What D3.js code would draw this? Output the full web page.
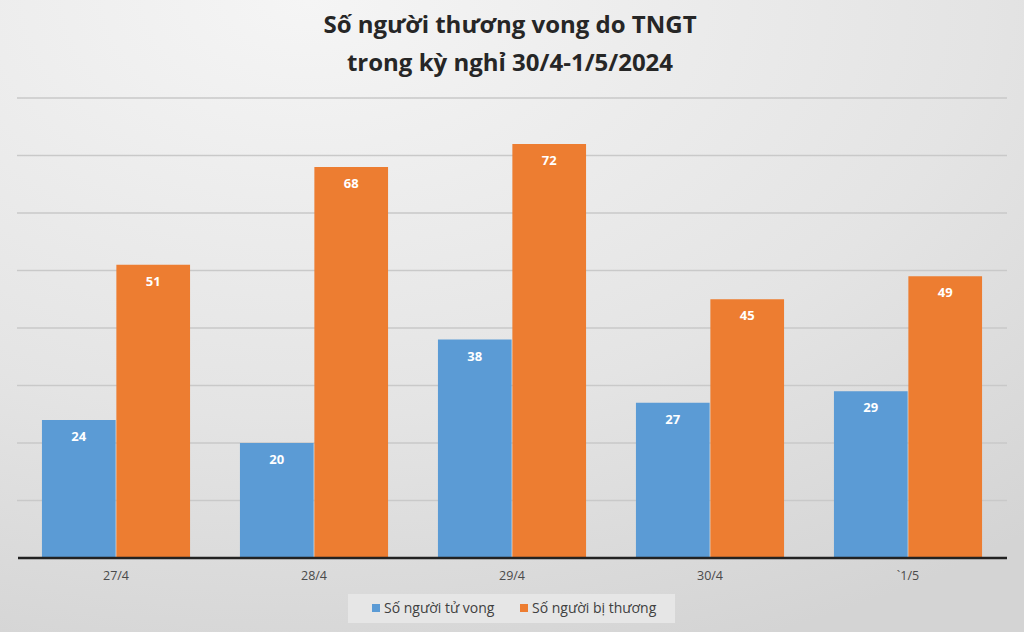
<!DOCTYPE html>
<html><head><meta charset="utf-8">
<script src="https://cdn.jsdelivr.net/npm/d3@7"></script>
<style>body{margin:0;overflow:hidden}svg{display:block}</style>
</head><body>
<script>
const categories = ["27/4","28/4","29/4","30/4","`1/5"];
const seriesNames = ["Số người tử vong","Số người bị thương"];
const deaths = [24,20,38,27,29];
const injured = [51,68,72,45,49];
const yTicks = [0,10,20,30,40,50,60,70,80];
const titleLines = ["Số người thương vong do TNGT","trong kỳ nghỉ 30/4-1/5/2024"];
const colors = ["#5b9bd5","#ed7d31"];

const W=1024,H=632;
const svg=d3.select("body").append("svg").attr("width",W).attr("height",H);
const defs=svg.append("defs");
const g=defs.append("radialGradient").attr("id","bg").attr("cx","0.3").attr("cy","0").attr("r","1.1");
g.append("stop").attr("offset","0").attr("stop-color","#f5f5f5");
g.append("stop").attr("offset","0.6").attr("stop-color","#e4e4e4");
g.append("stop").attr("offset","1").attr("stop-color","#d4d4d4");
svg.append("rect").attr("width",W).attr("height",H).attr("fill","url(#bg)");

const x0=d3.scaleBand().domain(categories).range([17,1007]).paddingInner(0.252).paddingOuter(0.126);
const x1=d3.scaleBand().domain(seriesNames).range([0,x0.bandwidth()]).paddingInner(0.01);
const y=d3.scaleLinear().domain([0,80]).range([558,98]);

// gridlines
svg.append("g").selectAll("line").data(yTicks.slice(1)).join("line")
  .attr("x1",17).attr("x2",1007).attr("y1",d=>y(d)).attr("y2",d=>y(d))
  .attr("stroke","#c9c9c9").attr("stroke-width",1.5);

const data=categories.map((c,i)=>({c,vals:[deaths[i],injured[i]]}));
const grp=svg.append("g").selectAll("g").data(data).join("g")
  .attr("transform",d=>`translate(${x0(d.c)},0)`);
grp.selectAll("rect").data(d=>d.vals.map((v,j)=>({v,s:seriesNames[j],j}))).join("rect")
  .attr("x",d=>x1(d.s)).attr("width",x1.bandwidth())
  .attr("y",d=>y(d.v)).attr("height",d=>y(0)-y(d.v))
  .attr("fill",d=>colors[d.j]);
grp.selectAll("text").data(d=>d.vals.map((v,j)=>({v,s:seriesNames[j],j}))).join("text")
  .attr("x",d=>x1(d.s)+x1.bandwidth()/2).attr("y",d=>y(d.v)+21)
  .attr("text-anchor","middle").attr("fill","#fff")
  .style("font-family","Open Sans, sans-serif").style("font-weight","bold").style("font-size","13px")
  .text(d=>d.v);

// baseline axis
const xa=svg.append("g").attr("transform","translate(0,558)")
  .call(d3.axisBottom(x0).tickSize(0).tickPadding(13));
xa.select(".domain").attr("stroke","#222").attr("stroke-width",2.5).attr("d","M18,0H1007");
xa.selectAll("text").attr("fill","#4a4a4a").style("font-family","Open Sans, sans-serif").style("font-size","12.5px");

// title
svg.append("g").selectAll("text").data(titleLines).join("text")
  .attr("x",510).attr("y",(d,i)=>33+i*38).attr("text-anchor","middle")
  .attr("fill","#262626").style("font-family","Open Sans, sans-serif").style("font-weight","bold").style("font-size","24px")
  .text(d=>d);

// legend
const lg=svg.append("g");
lg.append("rect").attr("x",348).attr("y",594).attr("width",327).attr("height",29).attr("fill","#e6e6e6");
const li=lg.selectAll("g").data(seriesNames).join("g")
  .attr("transform",(d,i)=>`translate(${i?520:372},608)`);
li.append("rect").attr("x",0).attr("y",-4).attr("width",8).attr("height",8).attr("fill",(d,i)=>colors[i]);
li.append("text").attr("x",12).attr("y",5).attr("fill","#404040")
  .style("font-family","Open Sans, sans-serif").style("font-size","14px").text(d=>d);
</script>
</body></html>
